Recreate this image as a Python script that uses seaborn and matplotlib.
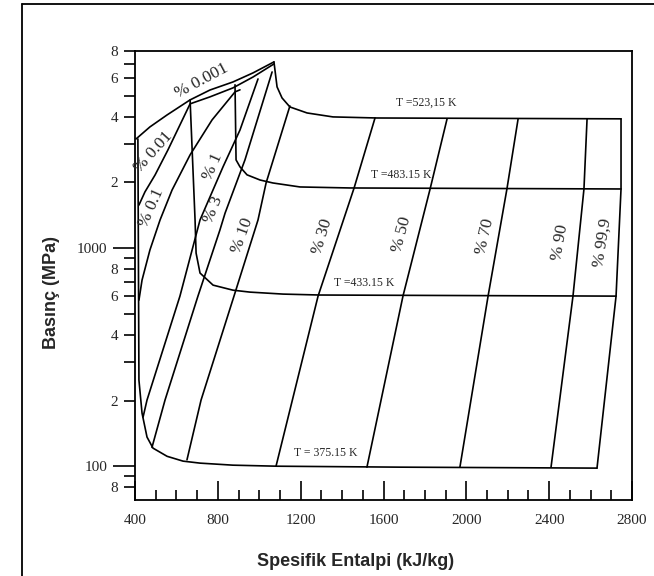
import matplotlib
matplotlib.use("Agg")
import matplotlib.pyplot as plt
import numpy as np
import pandas as pd
import seaborn as sns
from matplotlib.lines import Line2D

# Isotherms: specific enthalpy (kJ/kg) vs pressure
t375_h = [414, 419, 434, 458, 487, 555, 632, 714, 873, 1086, 1680, 2631]
t375_p = [3162, 248, 175, 136, 121, 111, 105.5, 103.3, 101.1, 100, 99, 98]
t433_h = [666, 690, 695, 714, 777, 873, 955, 1115, 1293, 2723]
t433_p = [4775, 1345, 948, 768, 676, 641, 628, 615, 609, 602]
t483_h = [883, 888, 907, 941, 1004, 1066, 1197, 1438, 2747]
t483_p = [5600, 2535, 2355, 2165, 2050, 1987, 1905, 1885, 1865]
t523_h = [1071, 1086, 1110, 1148, 1231, 1356, 1569, 2747]
t523_p = [7130, 5477, 4875, 4432, 4160, 3990, 3945, 3910]

# Constant-fraction lines
q0001_h = [405, 472, 555, 666, 762, 873, 970, 1071]
q0001_p = [3162, 3590, 4075, 4775, 5300, 5770, 6350, 7130]
q001_h = [1071, 970, 873, 762, 666, 617, 559, 497, 448, 419]
q001_p = [6980, 6080, 5420, 4930, 4580, 3665, 2816, 2163, 1808, 1574]
q01_h = [907, 883, 772, 666, 579, 521, 472, 434, 419]
q01_p = [5309, 5196, 3864, 2673, 1845, 1345, 979, 713, 577]
q1_h = [994, 907, 825, 714, 617, 458, 439]
q1_p = [5957, 3475, 2355, 1345, 602, 201, 168]
q3_h = [1062, 931, 835, 810, 704, 545, 482]
q3_p = [6412, 2535, 1446, 1209, 602, 201, 122]
q10_h = [1148, 1033, 994, 878, 719, 651]
q10_p = [4478, 1987, 1345, 602, 201, 107]
q30_h = [1559, 1458, 1284, 1081]
q30_p = [3945, 1885, 602, 100]
q50_h = [1907, 1825, 1694, 1520]
q50_p = [3910, 1865, 602, 99]
q70_h = [2250, 2196, 2105, 1969]
q70_p = [3910, 1865, 602, 99]
q90_h = [2583, 2568, 2515, 2409]
q90_p = [3910, 1865, 602, 99]
q999_h = [2747, 2747, 2723, 2631]
q999_p = [3910, 1865, 602, 98]

curves = {
    "T375": (t375_h, t375_p), "T433": (t433_h, t433_p),
    "T483": (t483_h, t483_p), "T523": (t523_h, t523_p),
    "q0.001": (q0001_h, q0001_p), "q0.01": (q001_h, q001_p),
    "q0.1": (q01_h, q01_p), "q1": (q1_h, q1_p), "q3": (q3_h, q3_p),
    "q10": (q10_h, q10_p), "q30": (q30_h, q30_p), "q50": (q50_h, q50_p),
    "q70": (q70_h, q70_p), "q90": (q90_h, q90_p), "q99.9": (q999_h, q999_p),
}

iso_labels = ["T =523,15 K", "T =483.15 K", "T =433.15 K", "T = 375.15 K"]
iso_label_h = [1805, 1685, 1506, 1322]
iso_label_p = [4624, 2163, 690, 114.8]

frac_labels = ["% 0.001", "% 0.01", "% 0.1", "% 1", "% 3", "% 10",
               "% 30", "% 50", "% 70", "% 90", "% 99,9"]
frac_label_h = [724, 487, 480, 777, 781, 921, 1303, 1689, 2090, 2452, 2660]
frac_label_p = [5834, 2754, 1525, 2355, 1500, 1135, 1135, 1159, 1135, 1065, 1054]
frac_label_rot = [28, 48, 66, 66, 68, 70, 73, 75, 77, 80, 81]

x_ticks = [400, 800, 1200, 1600, 2000, 2400, 2800]
y_major = [100, 1000]
y_minor = [80, 90, 200, 300, 400, 500, 600, 700, 800, 900,
           2000, 3000, 4000, 5000, 6000, 7000, 8000]
y_minor_labels = ["8", "", "2", "", "4", "", "6", "", "8", "",
                  "2", "", "4", "", "6", "", "8"]

rows = []
for name, (hs, ps) in curves.items():
    for i, (h, p) in enumerate(zip(hs, ps)):
        rows.append({"curve": name, "order": i, "h": h, "p": p})
df = pd.DataFrame(rows)

sns.set_theme(style="white")
plt.rcParams["font.family"] = ["Liberation Serif", "DejaVu Serif"]

fig = plt.figure(figsize=(6.54, 5.76), dpi=100)
ax = fig.add_axes([135 / 654, 1 - 500 / 576, 497 / 654, 449 / 576])

sns.lineplot(data=df, x="h", y="p", units="curve", estimator=None, sort=False,
             color="black", linewidth=1.2, ax=ax, legend=False)

ax.set_yscale("log")
ax.set_xlim(400, 2800)
ax.set_ylim(70, 8000)

ax.set_xticks(x_ticks)
ax.set_xticklabels([str(v) for v in x_ticks])
ax.set_xticks(np.arange(500, 2800, 100), minor=True)
ax.set_yticks(y_major)
ax.set_yticklabels(["100", "1000"])
ax.set_yticks(y_minor, minor=True)
ax.set_yticklabels(y_minor_labels, minor=True)

ax.tick_params(axis="x", which="major", direction="in", length=14, width=1.2,
               labelsize=11, pad=10, color="black")
ax.tick_params(axis="x", which="minor", direction="in", length=7, width=1.2,
               color="black")
ax.tick_params(axis="y", which="major", direction="out", length=16, width=1.2,
               labelsize=11, pad=4, color="black")
ax.tick_params(axis="y", which="minor", direction="out", length=8, width=1.2,
               labelsize=11, pad=4, color="black")
ax.tick_params(axis="y", which="both", left=True)
ax.tick_params(axis="x", which="both", bottom=True)

for s in ax.spines.values():
    s.set_color("black")
    s.set_linewidth(1.3)
    s.set_visible(True)

ax.set_xlabel("Spesifik Entalpi (kJ/kg)", fontfamily="Liberation Sans",
              fontweight="bold", fontsize=13)
ax.set_ylabel("Basınç (MPa)", fontfamily="Liberation Sans",
              fontweight="bold", fontsize=13)
ax.xaxis.label.set_va("center")
ax.yaxis.label.set_va("center")
ax.xaxis.set_label_coords(0.443, -0.138)
ax.yaxis.set_label_coords(-0.169, 0.463)

for txt, h, p in zip(iso_labels, iso_label_h, iso_label_p):
    ax.text(h, p, txt, fontsize=8.5, ha="center", va="center")
for txt, h, p, r in zip(frac_labels, frac_label_h, frac_label_p, frac_label_rot):
    ax.text(h, p, txt, fontsize=12.5, ha="center", va="center", rotation=r,
            rotation_mode="anchor")

# outer frame around the figure
fig.add_artist(Line2D([22 / 654, 22 / 654], [-0.05, 1 - 4 / 576],
                      transform=fig.transFigure, color="black", lw=1.3))
fig.add_artist(Line2D([22 / 654, 1.05], [1 - 4 / 576, 1 - 4 / 576],
                      transform=fig.transFigure, color="black", lw=1.3))

fig.savefig("out.png", dpi=100, facecolor="white")
